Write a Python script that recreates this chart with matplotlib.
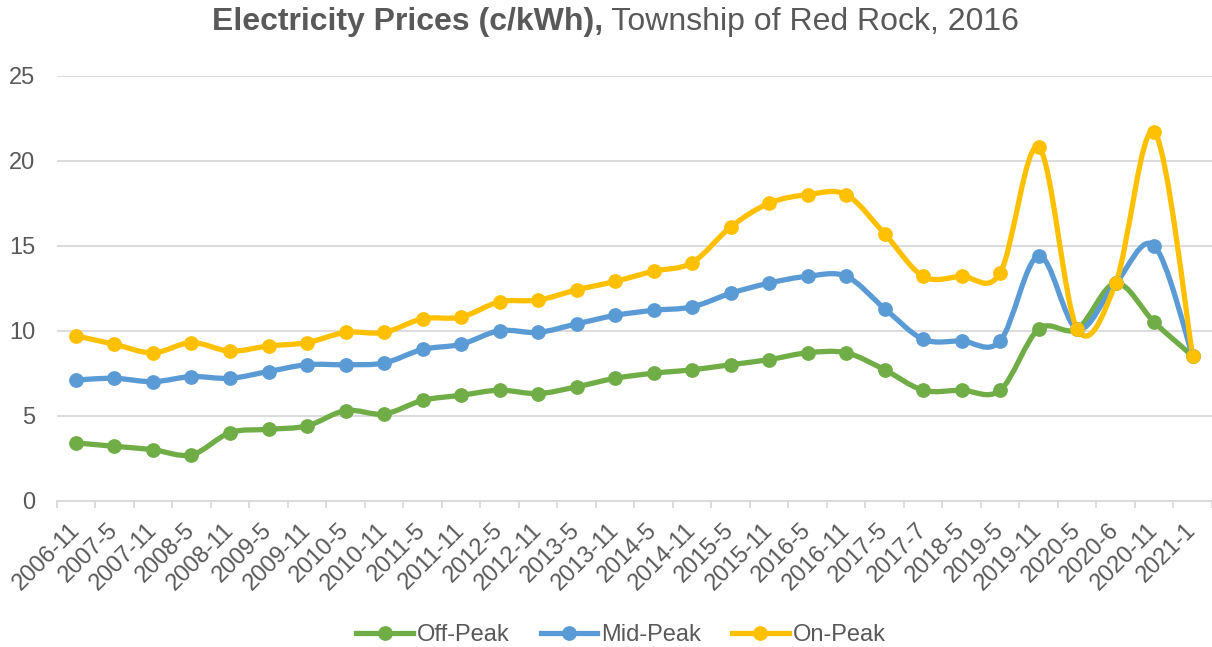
import matplotlib.pyplot as plt
import numpy as np
from matplotlib.lines import Line2D
from matplotlib.patches import PathPatch
from matplotlib.path import Path
from matplotlib.transforms import ScaledTranslation

plt.rcParams["font.family"] = ["Liberation Sans", "DejaVu Sans"]

periods = [
    "2006-11", "2007-5", "2007-11", "2008-5", "2008-11", "2009-5", "2009-11",
    "2010-5", "2010-11", "2011-5", "2011-11", "2012-5", "2012-11", "2013-5",
    "2013-11", "2014-5", "2014-11", "2015-5", "2015-11", "2016-5", "2016-11",
    "2017-5", "2017-7", "2018-5", "2019-5", "2019-11", "2020-5", "2020-6",
    "2020-11", "2021-1",
]
off_peak = [3.4, 3.2, 3.0, 2.7, 4.0, 4.2, 4.4, 5.3, 5.1, 5.9, 6.2, 6.5, 6.3, 6.7,
            7.2, 7.5, 7.7, 8.0, 8.3, 8.7, 8.7, 7.7, 6.5, 6.5, 6.5, 10.1, 10.1,
            12.8, 10.5, 8.5]
mid_peak = [7.1, 7.2, 7.0, 7.3, 7.2, 7.6, 8.0, 8.0, 8.1, 8.9, 9.2, 10.0, 9.9, 10.4,
            10.9, 11.2, 11.4, 12.2, 12.8, 13.2, 13.2, 11.3, 9.5, 9.4, 9.4, 14.4,
            10.1, 12.8, 15.0, 8.5]
on_peak = [9.7, 9.2, 8.7, 9.3, 8.8, 9.1, 9.3, 9.9, 9.9, 10.7, 10.8, 11.7, 11.8, 12.4,
           12.9, 13.5, 14.0, 16.1, 17.5, 18.0, 18.0, 15.7, 13.2, 13.2, 13.4, 20.8,
           10.1, 12.8, 21.7, 8.5]

series = [
    ("Off-Peak", off_peak, "#70AD47"),
    ("Mid-Peak", mid_peak, "#5B9BD5"),
    ("On-Peak", on_peak, "#FFC000"),
]
text_color = "#595959"
grid_color = "#D9D9D9"
line_w = 3.8
marker_s = 9.6
label_size = 17


def smooth_path(x, y):
    # Catmull-Rom style cubic Bezier through every point (like Excel's smoothed line)
    pts = np.column_stack([x, y]).astype(float)
    n = len(pts)
    verts = [pts[0]]
    codes = [Path.MOVETO]
    for i in range(n - 1):
        p_prev = pts[i - 1] if i > 0 else pts[i]
        p_next2 = pts[i + 2] if i + 2 < n else pts[i + 1]
        c1 = pts[i] + (pts[i + 1] - p_prev) / 6.0
        c2 = pts[i + 1] - (p_next2 - pts[i]) / 6.0
        verts += [c1, c2, pts[i + 1]]
        codes += [Path.CURVE4] * 3
    return Path(verts, codes)


W, H = 1212, 647
fig = plt.figure(figsize=(W / 100, H / 100), dpi=100)

step = 38.62
left_px, zero_px, top_px = 56.7, 500.7, 75.7
ax = fig.add_axes([left_px / W, 1 - zero_px / H, 1 - left_px / W, (zero_px - top_px) / H])

x = np.arange(len(periods))
for name, vals, color in series:
    patch = PathPatch(smooth_path(x, vals), facecolor="none", edgecolor=color,
                      linewidth=line_w, capstyle="round", joinstyle="round")
    ax.add_patch(patch)
    ax.plot(x, vals, "o", color=color, markersize=marker_s, linestyle="none")

ax.set_xlim(-0.5, -0.5 + (W - left_px) / step)
ax.set_ylim(0, 25)
ax.set_yticks([0, 5, 10, 15, 20, 25])
ax.yaxis.grid(True, color=grid_color, linewidth=1.3)
ax.set_axisbelow(True)
for side in ["top", "right", "left"]:
    ax.spines[side].set_visible(False)
ax.spines["bottom"].set_color(grid_color)
ax.spines["bottom"].set_linewidth(1.3)

ax.set_xticks(x)
ax.set_xticklabels(periods, rotation=45, ha="right", va="top")
ax.set_xticks(np.arange(len(periods) + 1) - 0.5, minor=True)
ax.tick_params(axis="x", which="major", length=0, pad=12, labelsize=label_size,
               labelcolor=text_color)
ax.tick_params(axis="x", which="minor", length=5, width=1.3, color=grid_color)
ax.tick_params(axis="y", length=0, pad=15.5, labelsize=label_size, labelcolor=text_color)

# nudge the slanted category labels so their ends sit under each point
nudge = ScaledTranslation(8 / 100, -2 / 100, fig.dpi_scale_trans)
for lbl in ax.get_xticklabels():
    lbl.set_transform(lbl.get_transform() + nudge)

# title: bold lead-in followed by regular text
t1 = fig.text(212 / W, 1 - 22 / H, "Electricity Prices (c/kWh),", fontsize=23,
              fontweight="bold", color=text_color, ha="left", va="center")
ax.annotate(" Township of Red Rock, 2016", xy=(1, 0.5), xycoords=t1, fontsize=23,
            color=text_color, ha="left", va="center", annotation_clip=False)

handles = [Line2D([0], [0], color=c, linewidth=line_w, marker="o", markersize=marker_s)
           for _, _, c in series]
fig.legend(handles, [s[0] for s in series], loc="center", bbox_to_anchor=(621 / W, 1 - 635 / H),
           ncol=3, frameon=False, fontsize=label_size, labelcolor=text_color,
           handlelength=2.4, columnspacing=1.3, handletextpad=0.17)

fig.savefig("out.png", dpi=100)
